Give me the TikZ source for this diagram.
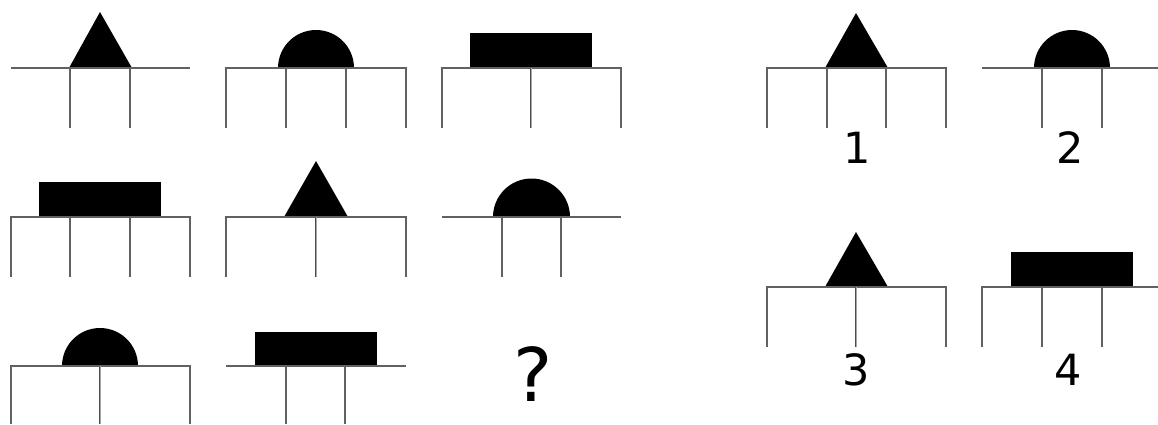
\documentclass[tikz,border=0pt]{standalone}
\usepackage{fontspec}
\setmainfont{DejaVu Sans}
\begin{document}
\begin{tikzpicture}[x=1pt,y=-1pt,
  ln/.style={draw=black!62, line width=1.1pt},
  dbl/.style={draw=black!70, line width=0.9pt, double=black!35, double distance=1pt},
  shp/.style={fill=black},
  lbl/.style={font=\fontsize{43}{43}\selectfont, inner sep=0pt, anchor=center}]
\useasboundingbox (0,0) rectangle (1158,424);
% ---- Row 1 ----
% cell 1: triangle, two legs
\fill[shp] (69,68) -- (100,12) -- (132,68) -- cycle;
\draw[ln] (11,68) -- (190,68);
\draw[ln] (70,68) -- (70,128) (130,68) -- (130,128);
% cell 2: semicircle, four legs
\fill[shp] (278,68) arc[start angle=180,end angle=360,radius=38] -- cycle;
\draw[ln] (226,128) -- (226,68) -- (406,68) -- (406,128);
\draw[ln] (286,68) -- (286,128) (346,68) -- (346,128);
% cell 3: rectangle, three legs (middle double)
\fill[shp] (470,33) rectangle (592,68);
\draw[ln] (442,128) -- (442,68) -- (621,68) -- (621,128);
\draw[dbl] (531,68) -- (531,128);
% ---- Row 2 ----
% cell 4: rectangle, four legs
\fill[shp] (39,182) rectangle (161,217);
\draw[ln] (11,277) -- (11,217) -- (190,217) -- (190,277);
\draw[ln] (70,217) -- (70,277) (130,217) -- (130,277);
% cell 5: triangle, three legs
\fill[shp] (284,217) -- (316,161) -- (348,217) -- cycle;
\draw[ln] (226,277) -- (226,217) -- (406,217) -- (406,277);
\draw[dbl] (316,217) -- (316,277);
% cell 6: semicircle, two legs
\fill[shp] (493,217) arc[start angle=180,end angle=360,radius=38.5] -- cycle;
\draw[ln] (442,217) -- (621,217);
\draw[ln] (502,217) -- (502,277) (561,217) -- (561,277);
% ---- Row 3 ----
% cell 7: semicircle, three legs
\fill[shp] (62,366) arc[start angle=180,end angle=360,radius=38] -- cycle;
\draw[ln] (11,424) -- (11,366) -- (190,366) -- (190,424);
\draw[dbl] (100,366) -- (100,424);
% cell 8: rectangle, two legs
\fill[shp] (255,332) rectangle (377,366);
\draw[ln] (226,366) -- (406,366);
\draw[ln] (286,366) -- (286,424) (345,366) -- (345,424);
% cell 9: question mark
\node[lbl, font=\fontsize{74}{74}\selectfont] (q) at (533,374) {?};
% ---- Answers ----
% answer 1
\fill[shp] (825,68) -- (856,13) -- (888,68) -- cycle;
\draw[ln] (767,128) -- (767,68) -- (946,68) -- (946,128);
\draw[ln] (827,68) -- (827,128) (886,68) -- (886,128);
\node[lbl] (a1) at (857,148) {1};
% answer 2
\fill[shp] (1034,68) arc[start angle=180,end angle=360,radius=38] -- cycle;
\draw[ln] (982,68) -- (1158,68);
\draw[ln] (1042,68) -- (1042,128) (1102,68) -- (1102,128);
\node[lbl] (a2) at (1070,148) {2};
% answer 3
\fill[shp] (825,287) -- (856,232) -- (888,287) -- cycle;
\draw[ln] (767,347) -- (767,287) -- (946,287) -- (946,347);
\draw[dbl] (856,287) -- (856,347);
\node[lbl] (a3) at (856,370) {3};
% answer 4
\fill[shp] (1011,252) rectangle (1133,287);
\draw[ln] (982,347) -- (982,287) -- (1158,287);
\draw[ln] (1042,287) -- (1042,347) (1102,287) -- (1102,347);
\node[lbl] (a4) at (1068,370) {4};
\end{tikzpicture}
\end{document}
